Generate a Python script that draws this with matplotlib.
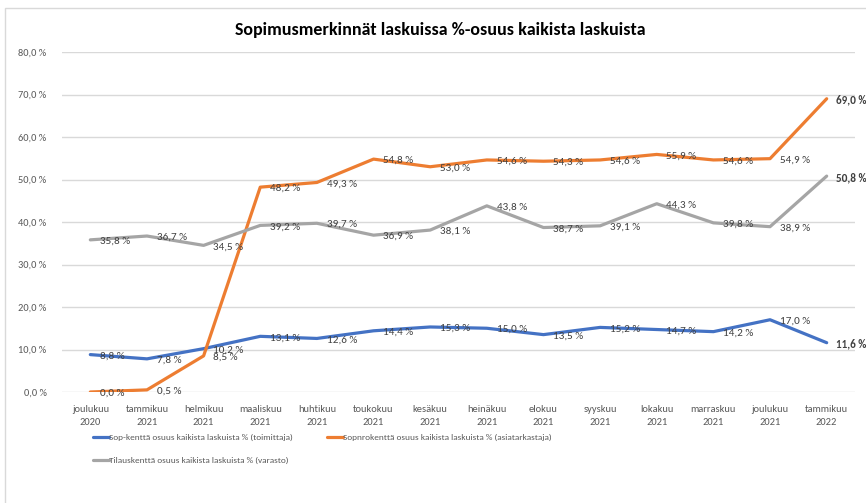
import matplotlib.pyplot as plt
from matplotlib.patches import Rectangle
import numpy as np

plt.rcParams['font.family'] = ['Carlito', 'Liberation Sans', 'DejaVu Sans']

# data
months = ['joulukuu\n2020', 'tammikuu\n2021', 'helmikuu\n2021', 'maaliskuu\n2021',
          'huhtikuu\n2021', 'toukokuu\n2021', 'kesäkuu\n2021', 'heinäkuu\n2021',
          'elokuu\n2021', 'syyskuu\n2021', 'lokakuu\n2021', 'marraskuu\n2021',
          'joulukuu\n2021', 'tammikuu\n2022']
sop = [8.8, 7.8, 10.2, 13.1, 12.6, 14.4, 15.3, 15.0, 13.5, 15.2, 14.7, 14.2, 17.0, 11.6]
sopnro = [0.0, 0.5, 8.5, 48.2, 49.3, 54.8, 53.0, 54.6, 54.3, 54.6, 55.9, 54.6, 54.9, 69.0]
tilaus = [35.8, 36.7, 34.5, 39.2, 39.7, 36.9, 38.1, 43.8, 38.7, 39.1, 44.3, 39.8, 38.9, 50.8]
names = ['Sop-kenttä osuus kaikista laskuista % (toimittaja)',
         'Sopnrokenttä osuus kaikista laskuista % (asiatarkastaja)',
         'Tilauskenttä osuus kaikista laskuista % (varasto)']
colors = ['#4472c4', '#ed7d31', '#a5a5a5']

fig = plt.figure(figsize=(8.66, 5.03), dpi=100)
fig.patches.append(Rectangle((0.006, -0.01), 1.2, 0.995, transform=fig.transFigure,
                             fill=False, edgecolor='#d9d9d9', lw=1))
ax = fig.add_axes([62/866, 1-392/503, 793/866, 340/503])

x = np.arange(len(months))
lines = {}
for vals, name, c in zip([sop, sopnro, tilaus], names, colors):
    h, = ax.plot(x, vals, color=c, lw=2.3, solid_capstyle='round', label=name)
    lines[name] = h
    for i, v in enumerate(vals):
        last = i == len(vals) - 1
        ax.annotate(f'{v:.1f} %'.replace('.', ','), (i, v), xytext=(7, -1),
                    textcoords='offset points', ha='left', va='center',
                    fontsize=8, color='#404040',
                    fontweight='bold' if last else 'normal')

ax.set_xlim(-0.5, len(months) - 0.5)
ax.set_ylim(0, 80)
ax.set_yticks(np.arange(0, 81, 10))
ax.set_yticklabels([f'{t:.1f} %'.replace('.', ',') for t in np.arange(0, 81, 10)])
ax.set_xticks(x)
ax.set_xticklabels(months, linespacing=1.6)
ax.tick_params(length=0, labelsize=7.5, labelcolor='#595959')
ax.tick_params(axis='x', pad=9)
ax.tick_params(axis='y', pad=11)
ax.grid(axis='y', color='#d9d9d9', lw=1)
ax.set_axisbelow(True)
for s in ax.spines.values():
    s.set_visible(False)

fig.text(0.508, 0.94, 'Sopimusmerkinnät laskuissa %-osuus kaikista laskuista',
         ha='center', va='center', fontsize=13, fontweight='bold', color='black')

handles = [lines[names[0]], lines[names[2]], lines[names[1]]]
leg = fig.legend(handles, [h.get_label() for h in handles], ncol=2,
                 loc='upper left', bbox_to_anchor=(89/866, 1-430/503),
                 frameon=False, fontsize=6.7, handlelength=1.7, handletextpad=0.1,
                 columnspacing=3.6, labelspacing=1.6, borderaxespad=0)
for t in leg.get_texts():
    t.set_color('#595959')

fig.savefig('out.png', dpi=100)
